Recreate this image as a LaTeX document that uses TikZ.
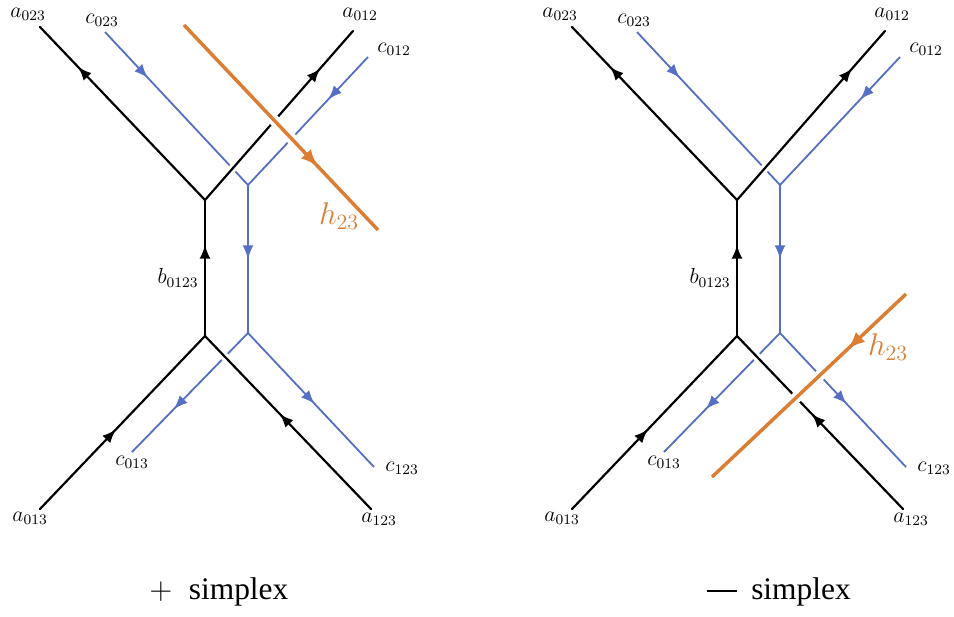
\documentclass[tikz,border=0pt]{standalone}
\usepackage{fontspec}
\newfontfamily\capfont{Liberation Serif}
\usepackage{tikz}
\usetikzlibrary{arrows.meta,decorations.markings,calc}
\definecolor{lineblue}{RGB}{84,112,196}
\definecolor{lineorange}{RGB}{219,125,50}

\tikzset{
  arrowat/.style={postaction={decorate,decoration={markings,
    mark=at position #1 with {\arrow{Latex[length=7.5pt,width=6pt]}}}}},
  bigarrowat/.style={postaction={decorate,decoration={markings,
    mark=at position #1 with {\arrow{Latex[length=9.5pt,width=7.5pt]}}}}},
  edge/.style={line width=1.2pt, line cap=round},
  chain/.style={lineblue, line width=1pt},
  gap/.style={white, line width=4.5pt},
  hline/.style={lineorange, line width=1.9pt, preaction={draw=white, line width=6pt}},
  lbl/.style={font=\large},
  simplex/.pic={
    % corners of the graph
    \coordinate (-T) at (205,200);
    \coordinate (-B) at (205,336);
    \coordinate (-a023) at (40,27);
    \coordinate (-a012) at (353,31);
    \coordinate (-a013) at (40,509);
    \coordinate (-a123) at (371,509);
    % corners of the blue chain
    \coordinate (-BT) at (248,185);
    \coordinate (-BB) at (248,333);
    \coordinate (-c023) at (105,32);
    \coordinate (-c012) at (368,57);
    \coordinate (-c013) at (132,452);
    \coordinate (-c123) at (374,467);

    % blue lines
    \draw[chain, arrowat=0.3] (-c023) -- (-BT);
    \draw[chain, arrowat=0.33] (-c012) -- (-BT);
    \draw[chain, arrowat=0.5] (-BT) -- (-BB);
    \draw[chain, arrowat=0.64] (-BB) -- (-c013);
    \draw[chain, arrowat=0.53] (-BB) -- (-c123);

    % cut the blue where black passes over
    \draw[gap] ($(-T)!0.1!(-a012)$) -- ($(-T)!0.35!(-a012)$);
    \draw[gap] ($(-B)!0.06!(-a123)$) -- ($(-B)!0.3!(-a123)$);

    % black lines
    \draw[edge, arrowat=0.77] (-T) -- (-a023);
    \draw[edge, arrowat=0.78] (-T) -- (-a012);
    \draw[edge, arrowat=0.67] (-B) -- (-T);
    \draw[edge, arrowat=0.46] (-a013) -- (-B);
    \draw[edge, arrowat=0.55] (-a123) -- (-B);

    % labels
    \node[lbl] (-la023) at (28,14) {$a_{023}$};
    \node[lbl] (-lc023) at (102,20) {$c_{023}$};
    \node[lbl] (-la012) at (360,14) {$a_{012}$};
    \node[lbl] (-lc012) at (394,49) {$c_{012}$};
    \node[lbl] (-lb) at (178,278) {$b_{0123}$};
    \node[lbl] (-lc013) at (132,462) {$c_{013}$};
    \node[lbl] (-lc123) at (402,468) {$c_{123}$};
    \node[lbl] (-la013) at (30,518) {$a_{013}$};
    \node[lbl] (-la123) at (379,519) {$a_{123}$};
  }
}

\begin{document}
\begin{tikzpicture}[x=0.55pt, y=-0.55pt]
\useasboundingbox (0,0) rectangle (954,616);

% the two pictures
\pic (L) at (0,0) {simplex};
\pic (R) at (532,0) {simplex};

% orange line, left
\coordinate (hLs) at (184,25);
\coordinate (hLe) at (378,230);
\draw[hline, bigarrowat=0.69] (hLs) -- (hLe);
\node[text=lineorange] (hL) at (339,216) {\LARGE $h_{23}$};

% orange line, right
\coordinate (hRs) at (906,294);
\coordinate (hRe) at (712,477);
\draw[hline, bigarrowat=0.3] (hRs) -- (hRe);
\node[text=lineorange] (hR) at (888,347) {\LARGE $h_{23}$};

% captions
\node (capL) at (219,592) {\LARGE\capfont $+$\; simplex};
\node (capR) at (779,592) {\LARGE\capfont \rule[0.25em]{0.95em}{0.05em}\hspace{0.45em}simplex};
\end{tikzpicture}
\end{document}
